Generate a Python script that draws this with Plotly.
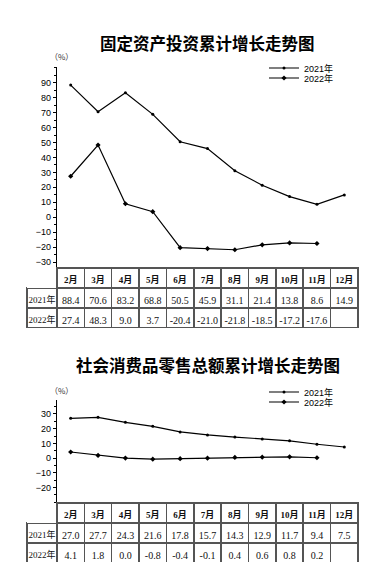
import plotly.graph_objects as go

months = ["2月", "3月", "4月", "5月", "6月", "7月", "8月", "9月", "10月", "11月", "12月"]
years = ["2021年", "2022年"]
fai_2021 = [88.4, 70.6, 83.2, 68.8, 50.5, 45.9, 31.1, 21.4, 13.8, 8.6, 14.9]
fai_2022 = [27.4, 48.3, 9.0, 3.7, -20.4, -21.0, -21.8, -18.5, -17.2, -17.6, None]
retail_2021 = [27.0, 27.7, 24.3, 21.6, 17.8, 15.7, 14.3, 12.9, 11.7, 9.4, 7.5]
retail_2022 = [4.1, 1.8, 0.0, -0.8, -0.4, -0.1, 0.4, 0.6, 0.8, 0.2, None]
titles = ["固定资产投资累计增长走势图", "社会消费品零售总额累计增长走势图"]
fai_ticks = [-30, -20, -10, 0, 10, 20, 30, 40, 50, 60, 70, 80, 90]
retail_ticks = [-20, -10, 0, 10, 20, 30]
unit_label = "（%）"

# page body has an 8px default margin; figure is sized to fit inside the window
OFF = 8
W, H = 379 - OFF, 586 - OFF
def px(x):
    return (x - OFF) / W
def py(y):
    return 1 - (y - OFF) / H

CJK = "Noto Sans CJK SC"
NUM = "Liberation Serif, Noto Sans CJK SC"
BORDER = "#555555"

def fmt(v):
    return "" if v is None else f"{v:.1f}"

fig = go.Figure()

charts = [
    dict(v21=fai_2021, v22=fai_2022, ticks=fai_ticks, rng=[-34, 100.5],
         top=67, bottom=268, tbottom=328, title_y=43, unit_y=57, leg_y=68,
         xa="x", ya="y", l1="legend", l2="legend2"),
    dict(v21=retail_2021, v22=retail_2022, ticks=retail_ticks, rng=[-30.6, 39.5],
         top=400, bottom=503, tbottom=562, title_y=365, unit_y=390, leg_y=392,
         xa="x2", ya="y2", l1="legend3", l2="legend4"),
]

layout = dict(
    width=W, height=H, margin=dict(l=0, r=0, t=0, b=0),
    paper_bgcolor="white", plot_bgcolor="white", showlegend=True,
    annotations=[],
)

for i, c in enumerate(charts):
    fig.add_trace(go.Scatter(
        x=months, y=c["v21"], name=years[0], mode="lines+markers",
        line=dict(color="black", width=1.2), marker=dict(symbol="circle", size=3, color="black"),
        xaxis=c["xa"], yaxis=c["ya"], legend=c["l1"]))
    fig.add_trace(go.Scatter(
        x=months, y=c["v22"], name=years[1], mode="lines+markers",
        line=dict(color="black", width=1.2), marker=dict(symbol="diamond", size=4, color="black"),
        xaxis=c["xa"], yaxis=c["ya"], legend=c["l2"]))

    cell_cols = [years] + [[fmt(a), fmt(b)] for a, b in zip(c["v21"], c["v22"])]
    fig.add_trace(go.Table(
        domain=dict(x=[px(27), px(358)], y=[py(c["tbottom"]), py(c["bottom"])]),
        columnwidth=[30] + [27.4] * 11,
        header=dict(values=[""] + months, height=20, align="center",
                    font=dict(family=NUM, size=9, color="#111111", weight="bold"),
                    line=dict(color=["rgba(0,0,0,0)"] + [BORDER] * 11, width=1.6),
                    fill=dict(color="white")),
        cells=dict(values=cell_cols, height=20, align="center",
                   font=dict(family=NUM, size=[9] + [10] * 11, color="#111111"),
                   line=dict(color=BORDER, width=1.6),
                   fill=dict(color="white")),
    ))

    sfx = "" if i == 0 else "2"
    layout["xaxis" + sfx] = dict(
        domain=[px(57), px(358)], anchor="y" + sfx, type="category",
        range=[-0.5, 10.5], showticklabels=False, ticks="", showgrid=False,
        zeroline=False, showline=True, linecolor="#333333", linewidth=1.8)
    layout["yaxis" + sfx] = dict(
        domain=[py(c["bottom"]), py(c["top"])], anchor="x" + sfx, range=c["rng"],
        tickvals=c["ticks"], ticks="outside", ticklen=3, tickwidth=1, tickcolor="black",
        minor=dict(dtick=5, tick0=0, ticks="outside", ticklen=2, tickcolor="black"),
        showgrid=False, zeroline=False, showline=True, linecolor="black", linewidth=1.2,
        tickfont=dict(family="Liberation Sans", size=9, color="black"))

    layout["annotations"].append(dict(
        text="<b>" + titles[i] + "</b>", xref="paper", yref="paper", x=px(208), y=py(c["title_y"]),
        xanchor="center", yanchor="middle", showarrow=False,
        font=dict(family=CJK, size=16.5, color="black")))
    layout["annotations"].append(dict(
        text=unit_label, xref="paper", yref="paper", x=px(48), y=py(c["unit_y"]),
        xanchor="left", yanchor="middle", showarrow=False,
        font=dict(family=CJK, size=8, color="#333333")))

    for k, lg in enumerate([c["l1"], c["l2"]]):
        layout[lg] = dict(
            x=px(264), y=py(c["leg_y"] + 10 * k), xanchor="left", yanchor="middle",
            bgcolor="rgba(0,0,0,0)", borderwidth=0,
            font=dict(family="Liberation Sans, Noto Sans CJK SC", size=9, color="black"))

fig.update_layout(**layout)
fig.write_html("out.html")
